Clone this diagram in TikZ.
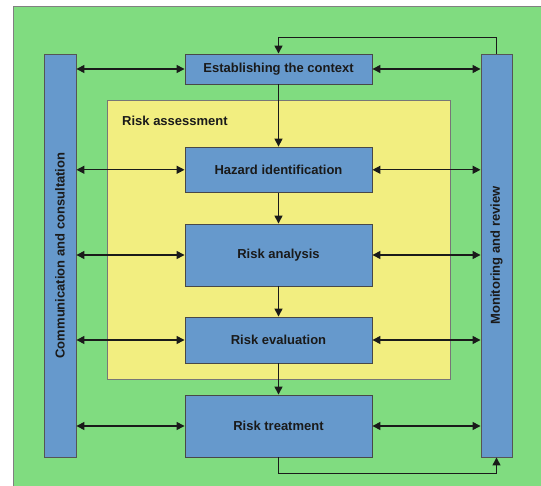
\documentclass[tikz,border=0pt]{standalone}
\usepackage{fontspec}
\setmainfont{Liberation Sans}
\usetikzlibrary{arrows.meta}
\definecolor{bggreen}{HTML}{80DC80}
\definecolor{asyellow}{HTML}{F2EE80}
\definecolor{boxblue}{HTML}{6699CC}
\definecolor{edgegray}{HTML}{555555}
\definecolor{txt}{HTML}{1A1A1A}
\tikzset{
  procbox/.style={draw=txt!80, line width=0.9pt, fill=boxblue, inner sep=0pt,
    minimum width=187pt, font=\bfseries\fontsize{13}{15}\selectfont, text=txt},
  sidebar/.style={draw=edgegray, line width=0.9pt, fill=boxblue, inner sep=0pt,
    minimum height=403pt},
  bartext/.style={rotate=90, font=\bfseries\fontsize{13}{15}\selectfont, text=txt},
  link/.style={line width=1.4pt, draw=txt, -{Triangle[length=8pt,width=8pt]}},
  dlink/.style={line width=1.4pt, draw=txt, {Triangle[length=8pt,width=8pt]}-{Triangle[length=8pt,width=8pt]}}
}
\begin{document}
\begin{tikzpicture}[x=1pt,y=-1pt]
\useasboundingbox (0,0) rectangle (541,486);
\fill[white] (0,0) rectangle (541,486);
\fill[bggreen] (13,7) rectangle (541,486);
\draw[gray, line width=1pt] (13,486) -- (13,7) -- (541,7);
% risk assessment area
\draw[fill=asyellow, draw=edgegray!80, line width=0.9pt] (107,100) rectangle (450,379);
\node[anchor=west, inner sep=0pt, font=\bfseries\fontsize{13}{15}\selectfont, text=txt] (ralabel) at (122,121) {Risk assessment};
% side bars
\node[sidebar, minimum width=32pt] (lbar) at (60,255.5) {};
\node[sidebar, minimum width=31pt] (rbar) at (496.5,255.5) {};
\node[bartext] (ltext) at (lbar.center) {Communication and consultation};
\node[bartext] (rtext) at (rbar.center) {Monitoring and review};
% process boxes
\node[procbox, minimum height=30pt] (ctx) at (278.5,69) {Establishing the context};
\node[procbox, minimum height=45.5pt] (haz) at (278.5,169.8) {Hazard identification};
\node[procbox, minimum height=62pt] (ana) at (278.5,255) {Risk analysis};
\node[procbox, minimum height=46pt] (eva) at (278.5,340) {Risk evaluation};
\node[procbox, minimum height=62pt] (tre) at (278.5,426) {Risk treatment};
% vertical flow
\draw[link] (ctx) -- (haz);
\draw[link] (haz) -- (ana);
\draw[link] (ana) -- (eva);
\draw[link] (eva) -- (tre);
% feedback loops
\draw[link] (rbar.north) -- ++(0,-16) -| (ctx.north);
\draw[link] (tre.south) -- ++(0,16) -| (rbar.south);
% horizontal double arrows
\foreach \b in {ctx,haz,ana,eva,tre}{
  \draw[dlink] (lbar.east |- \b.west) -- (\b.west);
  \draw[dlink] (\b.east) -- (rbar.west |- \b.east);
}
\end{tikzpicture}
\end{document}
